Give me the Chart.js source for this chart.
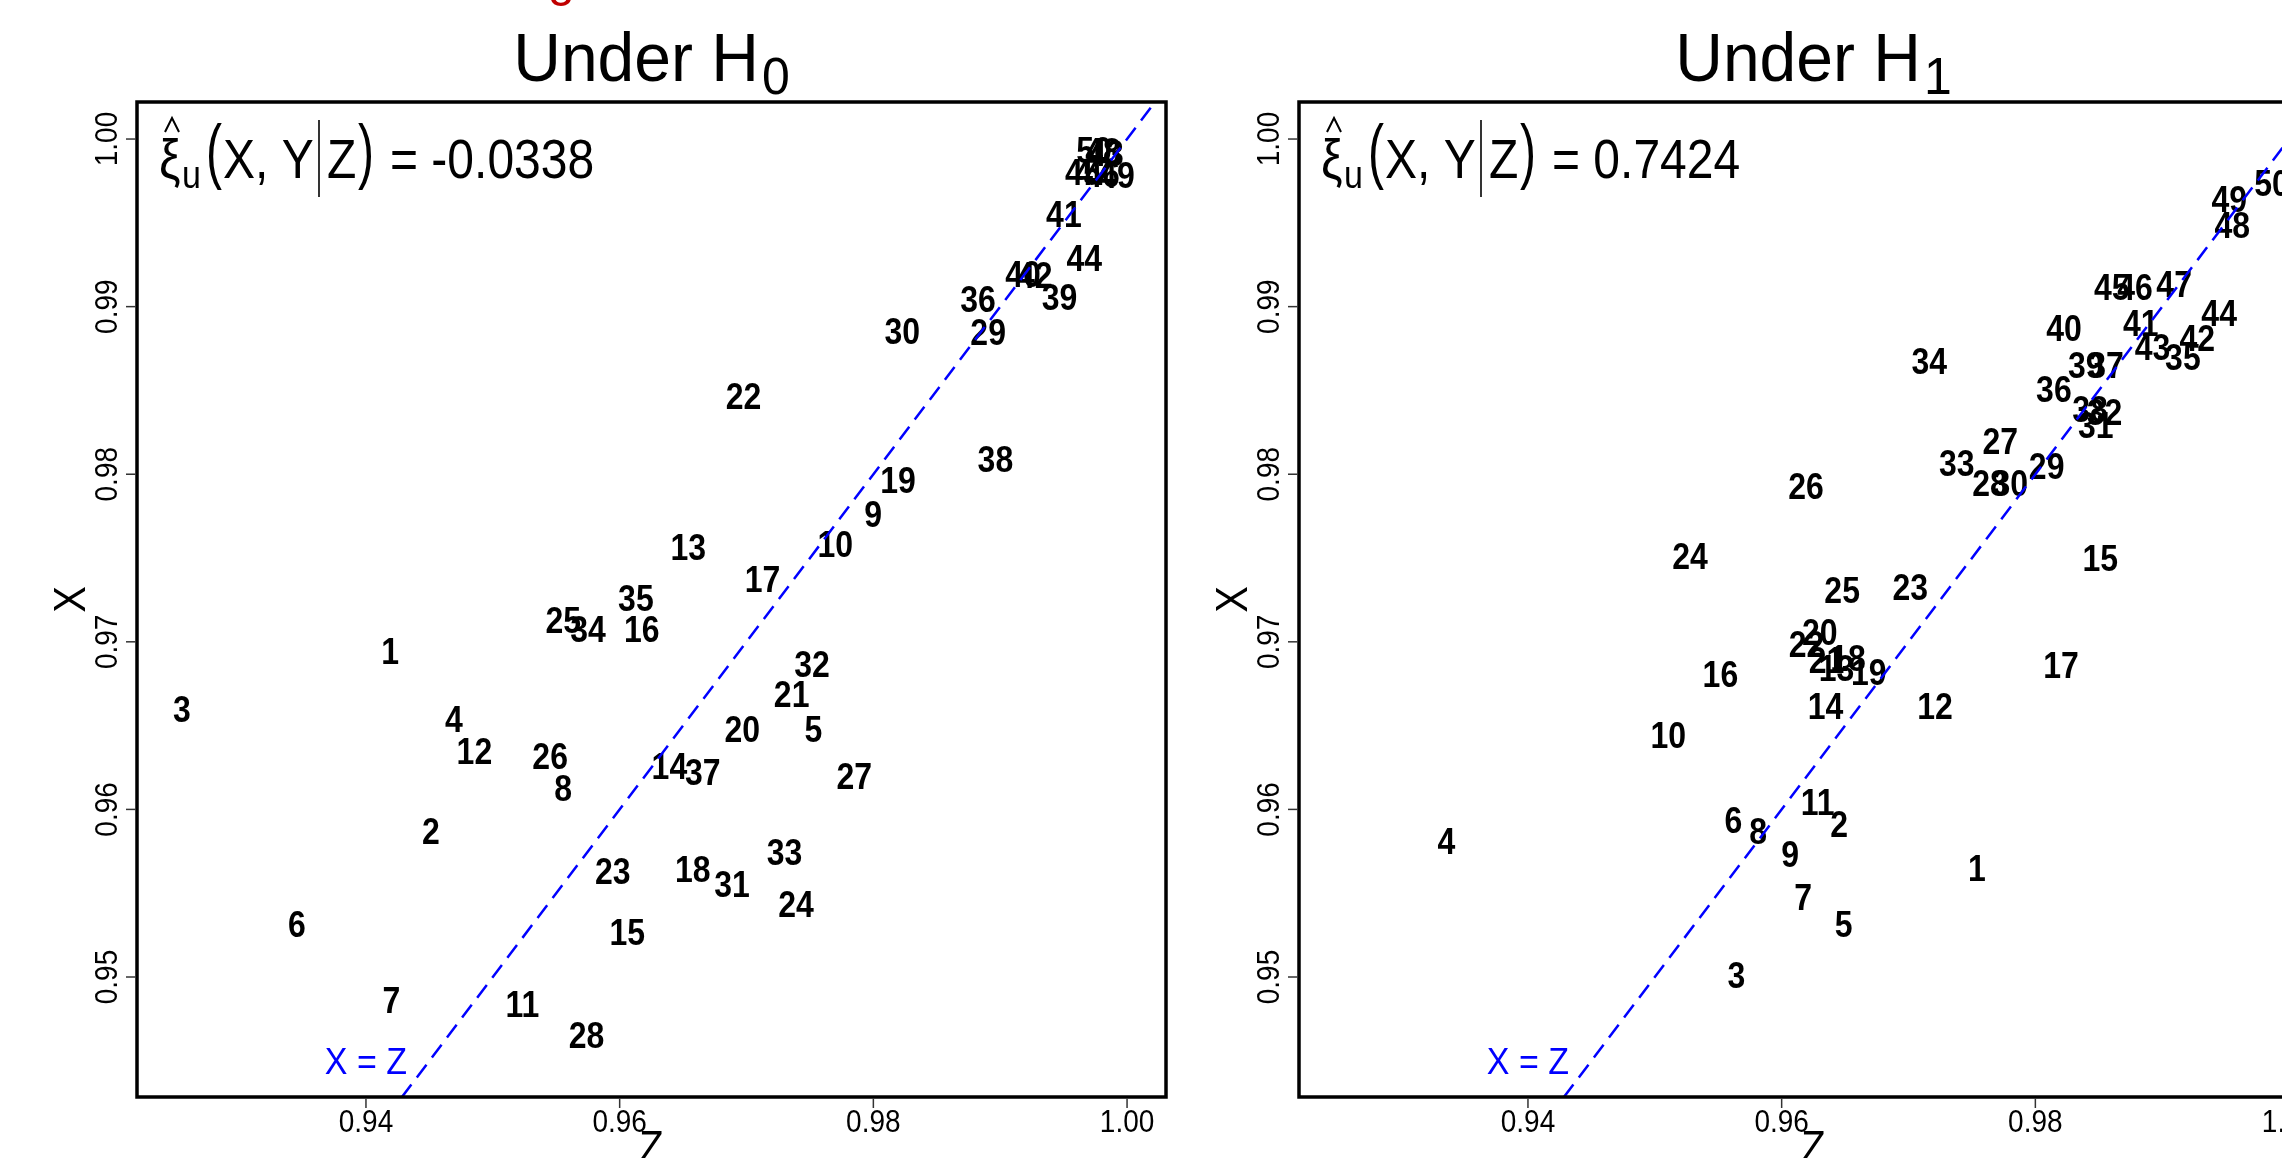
<!DOCTYPE html>
<html><head><meta charset="utf-8">
<script src="https://cdn.jsdelivr.net/npm/chart.js@4.4.1/dist/chart.umd.min.js"></script>
<style>
html,body{margin:0;padding:0;background:#fff;overflow:hidden;}
#wrap{position:relative;width:2282px;height:1158px;overflow:hidden;background:#fff;}
canvas{position:absolute;top:0;}
#frag{position:absolute;left:548px;top:-44px;font:48px "Liberation Sans",Arial,sans-serif;color:#c00000;line-height:48px;}
</style></head><body>
<div id="wrap">
<canvas id="c0" width="1233" height="1158" style="left:0px"></canvas>
<canvas id="c1" width="1233" height="1158" style="left:1162px"></canvas>
<div id="frag">g</div>
</div>
<script>
// ---- data ----
const pointIds = [1,2,3,4,5,6,7,8,9,10,11,12,13,14,15,16,17,18,19,20,21,22,23,24,25,26,27,28,29,30,31,32,33,34,35,36,37,38,39,40,41,42,43,44,45,46,47,48,49,50];
const h0Z = [0.94190,0.94511,0.92549,0.94694,0.97528,0.93455,0.94201,0.95555,0.97999,0.97700,
             0.95234,0.94855,0.96541,0.96392,0.96060,0.96174,0.97127,0.96576,0.98194,0.96966,
             0.97356,0.96977,0.95945,0.97390,0.95555,0.95452,0.97849,0.95738,0.98905,0.98228,
             0.96886,0.97517,0.97299,0.95750,0.96128,0.98825,0.96656,0.98962,0.99467,0.99180,
             0.99502,0.99272,0.99834,0.99662,0.99652,0.99802,0.99731,0.99810,0.99920,0.99739];
const h0X = [0.96948,0.95871,0.96600,0.96540,0.96479,0.95315,0.94864,0.96131,0.97764,0.97582,
             0.94837,0.96349,0.97564,0.96262,0.95272,0.97078,0.97373,0.95645,0.97964,0.96479,
             0.96687,0.98467,0.95636,0.95437,0.97130,0.96322,0.96201,0.94655,0.98849,0.98858,
             0.95558,0.96870,0.95749,0.97078,0.97260,0.99049,0.96227,0.98094,0.99058,0.99197,
             0.99553,0.99188,0.99916,0.99292,0.99803,0.99791,0.99803,0.99928,0.99785,0.99934];
const h1Z = [0.97540,0.96454,0.95643,0.93357,0.96489,0.95620,0.96169,0.95814,0.96066,0.95106,
             0.96283,0.97209,0.96432,0.96346,0.98511,0.95517,0.98203,0.96523,0.96686,0.96301,
             0.96353,0.96196,0.97014,0.95277,0.96477,0.96192,0.97723,0.97643,0.98089,0.97803,
             0.98477,0.98546,0.97380,0.97163,0.99163,0.98146,0.98557,0.98431,0.98397,0.98226,
             0.98831,0.99277,0.98923,0.99449,0.98603,0.98786,0.99094,0.99552,0.99528,0.99866];
const h1X = [0.95654,0.95914,0.95011,0.95810,0.95315,0.95940,0.95480,0.95871,0.95732,0.96444,
             0.96045,0.96617,0.96842,0.96617,0.97503,0.96809,0.96861,0.96902,0.96822,0.97057,
             0.96891,0.96991,0.97330,0.97512,0.97312,0.97929,0.98198,0.97946,0.98051,0.97946,
             0.98294,0.98372,0.98068,0.98676,0.98702,0.98511,0.98650,0.98389,0.98650,0.98876,
             0.98902,0.98815,0.98763,0.98962,0.99119,0.99119,0.99136,0.99487,0.99642,0.99737];
const panelSubs = ['0','1'];
const xiValues = ['-0.0338','0.7424'];
const xTicks = [0.94,0.96,0.98,1.00];
const xTickLabels = ['0.94','0.96','0.98','1.00'];
const yTicks = [0.95,0.96,0.97,0.98,0.99,1.00];
const yTickLabels = ['0.95','0.96','0.97','0.98','0.99','1.00'];
const zLimits = [0.92195, 1.00307];
const xLimits = [0.94284, 1.00221];
const refLine = [0.90, 1.02];
const refLabelAt = [0.94, 0.945];

// ---- drawing ----
const FONT = '"Liberation Sans", Arial, Helvetica, sans-serif';
const W = 1233, H = 1158;
const BOX = {left:137, right:1166, top:102, bottom:1097};

// draw text with a vertical stretch (baseline at y)
function sText(c, txt, x, y, sy) {
  c.save();
  c.translate(x, y);
  c.scale(1, sy);
  c.fillText(txt, 0, 0);
  c.restore();
}

function makeChart(id, zs, xs, sub, xiVal) {
  const plugin = {
    id: 'rstyle',
    beforeDatasetsDraw(chart) {
      const c = chart.ctx, sx = chart.scales.x, sy = chart.scales.y;
      c.save();
      c.fillStyle = '#000';
      const fs = 32, st = 1.15;
      c.font = 'bold ' + fs + 'px ' + FONT;
      c.textAlign = 'center';
      c.textBaseline = 'alphabetic';
      chart.data.datasets[0].data.forEach(d => {
        sText(c, d.id, sx.getPixelForValue(d.x), sy.getPixelForValue(d.y) + 0.358 * fs * st, st);
      });
      c.restore();
    },
    afterDraw(chart) {
      const c = chart.ctx, sx = chart.scales.x, sy = chart.scales.y, a = chart.chartArea;
      c.save();
      // ref label
      c.fillStyle = '#0000ff';
      c.font = '34px ' + FONT;
      c.textAlign = 'center';
      sText(c, 'X = Z', sx.getPixelForValue(refLabelAt[0]), sy.getPixelForValue(refLabelAt[1]) + 0.358 * 34 * 1.1, 1.1);
      // box
      c.strokeStyle = '#000';
      c.lineWidth = 3.5;
      c.strokeRect(a.left, a.top, a.right - a.left, a.bottom - a.top);
      // ticks
      c.lineWidth = 1.5;
      c.strokeStyle = '#333';
      c.fillStyle = '#000';
      c.font = '28px ' + FONT;
      c.textAlign = 'center';
      xTicks.forEach((v, i) => {
        const px = sx.getPixelForValue(v);
        c.beginPath(); c.moveTo(px, a.bottom + 1.5); c.lineTo(px, a.bottom + 11); c.stroke();
        sText(c, xTickLabels[i], px, a.bottom + 35, 1.1);
      });
      yTicks.forEach((v, i) => {
        const py = sy.getPixelForValue(v);
        c.beginPath(); c.moveTo(a.left - 1.5, py); c.lineTo(a.left - 11, py); c.stroke();
        c.save();
        c.translate(a.left - 20, py);
        c.rotate(-Math.PI / 2);
        c.scale(1, 1.1);
        c.fillText(yTickLabels[i], 0, 0);
        c.restore();
      });
      // axis titles
      c.font = '40px ' + FONT;
      const cx = (a.left + a.right) / 2;
      sText(c, 'Z', cx, a.bottom + 65, 1.1);
      c.save();
      c.translate(a.left - 67 + 15, (a.top + a.bottom) / 2);
      c.rotate(-Math.PI / 2);
      c.scale(1, 1.1);
      c.fillText('X', 0, 0);
      c.restore();
      // main title
      c.textAlign = 'left';
      c.font = '66px ' + FONT;
      const t1 = 'Under H';
      const w1 = c.measureText(t1).width;
      c.font = '50px ' + FONT;
      const w2 = c.measureText(sub).width;
      const start = cx - (w1 + 3 + w2) / 2;
      c.font = '66px ' + FONT;
      sText(c, t1, start, 81, 1.05);
      c.font = '50px ' + FONT;
      sText(c, sub, start + w1 + 3, 94, 1.05);
      // annotation
      const L = a.left;
      const base = 178;
      const st = 1.15;
      c.font = '48px ' + FONT;
      sText(c, '\u03BE', L + 22, base, st);
      // hat
      c.lineWidth = 2;
      c.strokeStyle = '#000';
      c.beginPath();
      c.moveTo(L + 28, 132); c.lineTo(L + 35, 118); c.lineTo(L + 42, 132);
      c.stroke();
      c.font = '34px ' + FONT;
      sText(c, 'u', L + 45, base + 10, st);
      // parens (stretched)
      const paren = (ch, x) => {
        c.save();
        c.font = '48px ' + FONT;
        c.translate(x, 156.5);
        c.scale(1, 1.5);
        c.fillText(ch, 0, 12.5);
        c.restore();
      };
      paren('(', L + 69);
      c.font = '48px ' + FONT;
      sText(c, 'X, Y', L + 86, base, st);
      c.lineWidth = 1.6;
      c.beginPath(); c.moveTo(L + 182, 120); c.lineTo(L + 182, 197); c.stroke();
      sText(c, 'Z', L + 190, base, st);
      paren(')', L + 221);
      c.font = '48px ' + FONT;
      sText(c, '= ' + xiVal, L + 253, base, st);
      c.restore();
    }
  };

  return new Chart(document.getElementById(id), {
    type: 'scatter',
    data: {
      datasets: [
        {
          data: pointIds.map((pid, i) => ({x: zs[i], y: xs[i], id: String(pid)})),
          pointRadius: 0, pointHoverRadius: 0, showLine: false
        },
        {
          type: 'line',
          data: refLine.map(v => ({x: v, y: v})),
          borderColor: '#0000ff', borderWidth: 2.5, borderDash: [16, 9],
          pointRadius: 0, fill: false, tension: 0
        }
      ]
    },
    options: {
      responsive: false, animation: false, devicePixelRatio: 1,
      layout: {padding: {left: 0, right: W - BOX.right, top: BOX.top, bottom: 0}},
      plugins: {legend: {display: false}, tooltip: {enabled: false}, title: {display: false}},
      events: [],
      scales: {
        x: {
          type: 'linear', min: zLimits[0], max: zLimits[1],
          grid: {display: false}, border: {display: false},
          ticks: {display: false},
          afterBuildTicks: s => { s.ticks = xTicks.map(v => ({value: v})); },
          afterFit: s => { s.height = H - BOX.bottom; }
        },
        y: {
          type: 'linear', min: xLimits[0], max: xLimits[1],
          grid: {display: false}, border: {display: false},
          ticks: {display: false},
          afterBuildTicks: s => { s.ticks = yTicks.map(v => ({value: v})); },
          afterFit: s => { s.width = BOX.left; }
        }
      }
    },
    plugins: [plugin]
  });
}

makeChart('c0', h0Z, h0X, panelSubs[0], xiValues[0]);
makeChart('c1', h1Z, h1X, panelSubs[1], xiValues[1]);
</script>
</body></html>
